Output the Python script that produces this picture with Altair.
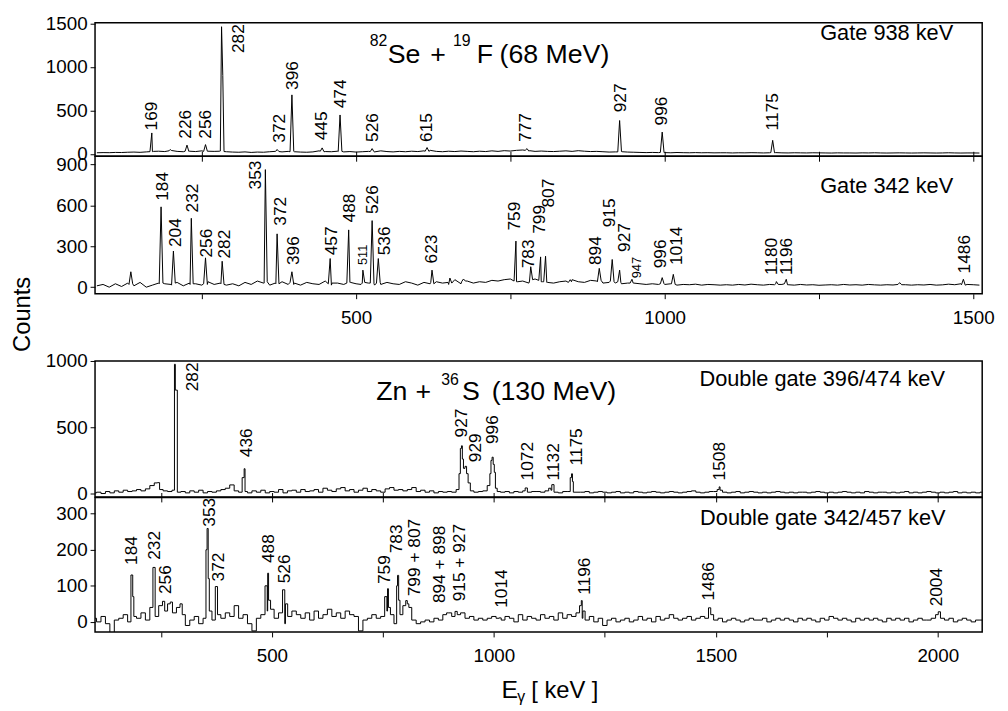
import altair as alt
import pandas as pd

FONT = "Liberation Sans"

# ---------------- Panel 1 : 82Se + 19F, gate 938 keV ----------------
P1_START, P1_STEP = 80, 10
P1_BASE = [12, 14, 13, 16, 15, 18, 20, 17, 22, 25, 30, 26,
           40, 28, 24, 30, 26, 34, 30, 28, 32, 24,
           20, 18, 22, 16, 20, 18, 24, 30, 22, 28,
           24, 20, 18, 22, 34, 26, 24, 30, 22, 26,
           20, 24, 28, 22, 34, 26, 22, 28, 24, 30,
           26, 34, 40, 28, 24, 30, 26, 32, 28, 24,
           30, 26, 34, 28, 36, 32, 40, 44, 30, 28,
           32, 28, 26, 30, 34, 28, 36, 30, 26, 28,
           24, 20, 22, 26, 20, 18, 16, 14, 16, 14,
           14, 12, 15, 13, 12, 14, 12, 13, 11, 12,
           12, 10, 12, 11, 13, 12, 10, 12, 14, 11,
           10, 12, 11, 10, 12, 11, 10, 9, 11, 10,
           10, 9, 11, 10, 12, 10, 9, 10, 11, 10,
           9, 10, 11, 10, 9, 10, 12, 10, 9, 10,
           10, 9]
P1_PEAK_E = [169, 199, 226, 256, 282, 284, 372, 396, 445, 474, 526, 615, 777, 927, 996, 1175]
P1_PEAK_C = [240, 50, 100, 106, 1462, 900, 50, 678, 68, 447, 60, 72, 60, 383, 250, 155]
P1_FOOT_E = [166, 172, 197, 201, 223, 229, 253, 259, 279, 286, 369, 375, 393, 399, 442, 448,
             471, 477, 523, 529, 612, 618, 774, 781, 924, 931, 993, 999, 1172, 1178]
P1_FOOT_C = [25, 28, 35, 38, 30, 28, 28, 30, 30, 26, 28, 26, 24, 28, 30, 24,
             26, 28, 26, 24, 30, 28, 40, 36, 22, 24, 16, 14, 14, 12]
P1_LAB = ["169", "226", "256", "282", "372", "396", "445", "474", "526", "615", "777", "927", "996", "1175"]
P1_LAB_E = [170, 225, 257, 311, 376, 398, 445, 475, 527, 615, 776, 930, 995, 1175]
P1_LAB_C = [269, 174, 174, 1159, 128, 735, 155, 523, 136, 136, 136, 477, 326, 269]

# ---------------- Panel 2 : gate 342 keV ----------------
P2_START, P2_STEP = 80, 10
P2_BASE = [10, 20, 0, 25, 5, 30, 10, 35, 0, 15, 30, 25,
           20, 35, 10, 30, 25, 15, 40, 20, 30, 15,
           25, 10, 35, 20, 45, 30, 15, 25, 40, 20,
           30, 15, 35, 25, 20, 45, 15, 30, 20, 35,
           25, 30, 30, 15, 20, 35, 25, 20, 40, 30,
           15, 35, 25, 40, 30, 20, 55, 25, 45, 30,
           40, 35, 50, 45, 55, 60, 40, 45, 30, 60,
           40, 35, 30, 40, 45, 55, 40, 35, 50, 45,
           30, 35, 30, 25, 30, 30, 25, 20, 25, 20,
           20, 25, 15, 20, 18, 22, 15, 20, 18, 15,
           18, 15, 20, 16, 22, 18, 15, 20, 25, 20,
           18, 15, 20, 16, 18, 14, 16, 18, 15, 20,
           16, 18, 15, 20, 17, 15, 18, 16, 30, 18,
           15, 18, 16, 20, 15, 17, 22, 18, 25, 20,
           18, 15]
P2_PEAK_E = [135, 184, 204, 233, 256, 283, 353, 372, 396, 458, 488, 511, 526, 536, 623, 652, 674,
             759, 783, 799, 807, 847, 894, 915, 927, 947, 996, 1014, 1181, 1197, 1381, 1484]
P2_PEAK_C = [113, 589, 265, 505, 215, 190, 862, 391, 113, 210, 420, 125, 488, 210, 125, 67, 60,
             338, 150, 222, 227, 55, 138, 203, 125, 58, 70, 94, 41, 58, 33, 58]
P2_FOOT_E = [132, 138, 181, 187, 201, 207, 231, 236, 253, 259, 281, 286, 351, 356, 369, 375,
             393, 399, 455, 461, 485, 491, 508, 514, 523, 529, 533, 539, 621, 626, 649, 655,
             671, 677, 756, 762, 781, 786, 796, 802, 804, 809, 844, 849, 891, 897, 912, 918,
             924, 929, 944, 949, 993, 999, 1011, 1017, 1178, 1184, 1194, 1199, 1378, 1384,
             1481, 1487]
P2_FOOT_C = [20, 25, 25, 30, 15, 30, 20, 25, 25, 20, 25, 20, 30, 40, 30, 25,
             35, 20, 25, 30, 30, 35, 20, 35, 30, 25, 30, 35, 35, 25, 35, 30,
             40, 45, 45, 40, 45, 55, 50, 40, 40, 35, 35, 40, 40, 50, 45, 40,
             40, 35, 30, 30, 25, 25, 25, 20, 18, 20, 25, 18, 20, 18,
             18, 15]
P2_LAB = ["184", "204", "232", "256", "282", "353", "372", "396", "457", "488", "526", "536", "623",
          "759", "783", "799", "807", "894", "915", "927", "996", "1014", "1180", "1196", "1486"]
P2_LAB_E = [188, 208, 236, 258.6, 287, 337.7, 379, 399, 460.4, 490, 527, 547, 623,
            757, 781, 798.6, 813, 889, 912, 936, 994.7, 1019.7, 1173.6, 1197.6, 1486]
P2_LAB_C = [633, 294, 548, 217, 210, 717, 451, 162, 234, 475, 536, 234, 174,
            415, 138, 391, 584, 162, 439, 258, 138, 162, 89, 89, 101]
P2_SMALL = ["511", "947"]
P2_SMALL_E = [511, 954.6]
P2_SMALL_C = [162, 65]

# ---------------- Panel 3 : Zn + 36S, double gate 396/474 keV ----------------
P3_START, P3_STEP = 100, 10
P3_BASE = [5, 10, 0, 15, 5, 20, 10, 25, 15, 20,
           30, 20, 35, 60, 80, 30, 20, 15, 25, 10,
           15, 5, 20, 10, 25, 5, 15, 10, 20, 30,
           40, 65, 20, 10, 15, 5, 20, 10, 25, 5,
           15, 10, 30, 5, 20, 25, 10, 30, 15, 20,
           30, 10, 40, 25, 15, 35, 45, 20, 30, 10,
           25, 40, 15, 30, 20, 10, 35, 45, 25, 30,
           20, 30, 45, 15, 25, 10, 20, 5, 15, 10,
           15, 10, 30, 260, 150, 20, 10, 15, 20, 60,
           220, 15, 10, 15, 5, 15, 10, 20, 10, 15,
           15, 10, 20, 25, 10, 5, 15, 15, 10, 10,
           10, 15, 5, 10, 15, 10, 5, 10, 15, 5,
           10, 5, 15, 10, 5, 10, 15, 10, 5, 10,
           15, 10, 5, 10, 15, 20, 10, 5, 10, 15,
           15, 25, 10, 5, 10, 15, 5, 10, 15, 10,
           5, 10, 5, 10, 15, 10, 5, 10, 5, 10,
           10, 5, 10, 15, 10, 5, 10, 5, 10, 15,
           10, 5, 10, 5, 15, 10, 5, 10, 10, 5,
           10, 5, 10, 15, 5, 10, 5, 10, 15, 10,
           5, 10, 5, 10, 15, 5, 10, 5, 10, 5,
           10]
P3_PEAK_E = [244, 281, 284, 436, 439, 923, 926, 928, 933, 937, 944, 992, 995, 997, 1002, 1005,
             1071, 1127, 1131, 1174, 1176, 1178, 1506, 1509]
P3_PEAK_C = [82, 975, 780, 120, 187, 150, 340, 360, 190, 205, 80, 150, 250, 274, 160, 40,
             42, 40, 67, 120, 149, 90, 30, 50]
P3_LAB = ["282", "436", "927", "929", "996", "1072", "1132", "1175", "1508"]
P3_LAB_E = [322, 445, 929, 959, 998, 1076, 1135, 1187, 1510]
P3_LAB_C = [771, 274, 423, 236, 373, 99, 99, 211, 99]

# ---------------- Panel 4 : double gate 342/457 keV ----------------
P4_START, P4_STEP = 100, 10
P4_BASE = [10, 0, 15, -5, -30, 5, 10, 20, 0, 15,
           10, 25, 5, 40, 15, 45, 30, 50, 25, 40,
           20, -10, 5, 15, -5, 10, 30, 5, 20, 10,
           25, 15, 45, 10, 20, -5, -25, 10, 20, 30,
           35, 10, 25, -5, 15, 30, 20, 10, 25, 5,
           30, 10, 20, 35, 15, 25, 10, 30, 20, 15,
           -25, 5, 10, 20, 10, 15, 30, 20, -5, 20,
           45, 40, 5, -5, 0, 5, 0, 10, 5, 20,
           25, 15, 20, 25, 10, 15, 5, 10, 5, 10,
           15, 10, 5, 15, 10, 0, 20, 5, 15, 10,
           5, 20, 10, 15, 5, 25, 10, 20, 15, 25,
           10, 5, 15, 0, 10, -10, 5, 10, 0, 5,
           10, 0, 5, 15, 5, 10, 0, 15, 5, 10,
           20, 10, 5, 10, 15, 5, 10, 15, 10, 20,
           5, 10, 0, 5, 10, 5, 0, 5, 10, 5,
           5, 10, 0, 5, 10, 5, 10, 5, 0, 10,
           5, 10, 5, 0, 10, 5, 15, 10, 5, 10,
           5, 0, 10, 5, 10, 5, 10, 5, 0, 10,
           5, 10, 5, 10, 0, 5, 10, 5, 5, 10,
           20, 10, 5, 10, 0, 5, 10, 5, 0, 5,
           5]
P4_PEAK_E = [185, 188, 234, 257, 272, 296, 353, 355, 358, 375, 489, 491, 494, 528, 531,
             758, 761, 764, 782, 784, 787, 803, 807, 897, 915, 1013, 1196, 1198, 1201, 1487, 2002]
P4_PEAK_C = [130, 70, 151, 57, 55, 50, 200, 259, 120, 98, 100, 135, 60, 89, 50,
             70, 92, 40, 100, 129, 60, 59, 50, 25, 29, 11, 45, 59, 30, 39, 28]
P4_LAB = ["184", "232", "256", "353", "372", "488", "526", "759", "783", "799 + 807",
          "894 + 898", "915 + 927", "1014", "1196", "1486", "2004"]
P4_LAB_E = [185.6, 237.5, 261, 360, 382, 493.4, 530.6, 754.6, 782.8, 823.5,
            877.8, 923.7, 1018, 1205.6, 1484, 1998]
P4_LAB_C = [158, 172, 77, 264, 112, 163, 107, 105, 190, 71, 52, 57, 39, 75, 59, 43]

# axis settings
X_TOP_DOMAIN = [77, 1514.5]
X_BOT_DOMAIN = [101.6, 2100]
X_TOP_TICKS = [250, 500, 750, 1000, 1250, 1500]
X_BOT_TICKS = [250, 500, 750, 1000, 1250, 1500, 1750, 2000]
W = 897
LABEL_SIZE = 17.5
SMALL_SIZE = 13
BIG = 27
SUP = 16


def spectrum(start, step, base, parts):
    e = [start + i * step for i in range(len(base))]
    c = list(base)
    for pe, pc in parts:
        e += list(pe)
        c += list(pc)
    return pd.DataFrame({"e": e, "c": c}).sort_values("e").reset_index(drop=True)


def labels(t, e, c, small=None):
    df = pd.DataFrame({"t": t, "e": e, "c": c, "fs": LABEL_SIZE})
    if small is not None:
        st, se, sc = small
        df = pd.concat([df, pd.DataFrame({"t": st, "e": se, "c": sc, "fs": SMALL_SIZE})],
                       ignore_index=True)
    return df


def note(text, x, y, size, align="left"):
    return alt.Chart(pd.DataFrame({"t": [text]})).mark_text(
        font=FONT, fontSize=size, align=align, baseline="alphabetic", color="black"
    ).encode(x=alt.value(x), y=alt.value(y), text="t:N")


def panel(df, lab_df, xdom, xticks, ydom, yticks, h, interp, show_labels, top_ticks, notes):
    xs = alt.Scale(domain=xdom, nice=False, zero=False)
    ys = alt.Scale(domain=ydom, nice=False, zero=False)
    x_axis = alt.Axis(values=xticks, labels=show_labels, format="d",
                      labelExpr="datum.value % 500 == 0 ? datum.label : ''",
                      ticks=True, tickSize=5, tickColor="black", domain=False, grid=False,
                      title=None, labelFont=FONT, labelFontSize=19, labelColor="black",
                      labelPadding=10, labelFlush=False, orient="bottom")
    y_axis = alt.Axis(values=yticks, format="d", ticks=True, tickSize=5, tickColor="black",
                      domain=False, grid=False, title=None, labelFont=FONT, labelFontSize=19,
                      labelColor="black", labelPadding=3, labelFlush=False,
                      minExtent=50, maxExtent=50)
    line = alt.Chart(df).mark_line(color="black", strokeWidth=1, interpolate=interp,
                                   clip=True).encode(
        x=alt.X("e:Q", scale=xs, axis=x_axis),
        y=alt.Y("c:Q", scale=ys, axis=y_axis),
    )
    if top_ticks:
        lab_x = alt.X("e:Q", scale=xs,
                      axis=alt.Axis(orient="top", values=xticks, labels=False, ticks=True,
                                    tickSize=5, tickColor="black", domain=False, grid=False,
                                    title=None))
    else:
        lab_x = alt.X("e:Q", scale=xs)
    lab = alt.Chart(lab_df).mark_text(angle=270, align="left", baseline="middle", font=FONT,
                                      color="black").encode(
        x=lab_x,
        y=alt.Y("c:Q", scale=ys),
        text="t:N",
        size=alt.Size("fs:Q", scale=None, legend=None),
    )
    ch = alt.layer(line, lab, *notes).properties(width=W, height=h)
    if top_ticks:
        ch = ch.resolve_axis(x="independent")
    return ch


p1 = panel(spectrum(P1_START, P1_STEP, P1_BASE,
                    [(P1_PEAK_E, P1_PEAK_C), (P1_FOOT_E, P1_FOOT_C)]),
           labels(P1_LAB, P1_LAB_E, P1_LAB_C), X_TOP_DOMAIN, X_TOP_TICKS,
           [-28, 1508], [0, 500, 1000, 1500], 135, "linear", False, False,
           [note("Gate 938 keV", 867.7, 17.4, 22, "right"),
            note("82", 277.7, 24, SUP), note("Se", 296, 40.7, BIG), note("+", 339, 40.7, BIG),
            note("19", 362, 24, SUP), note("F", 386, 40.7, BIG),
            note("(68 MeV)", 409, 40.7, BIG)])

p2 = panel(spectrum(P2_START, P2_STEP, P2_BASE,
                    [(P2_PEAK_E, P2_PEAK_C), (P2_FOOT_E, P2_FOOT_C)]),
           labels(P2_LAB, P2_LAB_E, P2_LAB_C, (P2_SMALL, P2_SMALL_E, P2_SMALL_C)),
           X_TOP_DOMAIN, X_TOP_TICKS,
           [-48, 960], [0, 300, 600, 900], 139, "linear", True, True,
           [note("Gate 342 keV", 867.7, 36.7, 22, "right")])

p3 = panel(spectrum(P3_START, P3_STEP, P3_BASE, [(P3_PEAK_E, P3_PEAK_C)]),
           labels(P3_LAB, P3_LAB_E, P3_LAB_C), X_BOT_DOMAIN, X_BOT_TICKS,
           [-26, 1000], [0, 250, 500, 750, 1000], 137.5, "step", False, False,
           [note("Zn", 284.3, 39, BIG), note("+", 324, 39, BIG), note("36", 350, 24, SUP),
            note("S", 371, 39, BIG), note("(130 MeV)", 401, 39, BIG),
            note("Double gate 396/474 keV", 859.3, 25.7, 22, "right")])

p4 = panel(spectrum(P4_START, P4_STEP, P4_BASE, [(P4_PEAK_E, P4_PEAK_C)]),
           labels(P4_LAB, P4_LAB_E, P4_LAB_C), X_BOT_DOMAIN, X_BOT_TICKS,
           [-28, 345], [0, 100, 200, 300], 136, "step", True, True,
           [note("Double gate 342/457 keV", 860, 27.7, 22, "right"),
            note("E", 411, 203, 25), note("γ", 427, 207, 16),
            note("[ keV ]", 441, 203, 24)])

top = alt.vconcat(p1, p2, spacing=0, bounds="flush")
bottom = alt.vconcat(p3, p4, spacing=0, bounds="flush")

chart = alt.vconcat(top, bottom, spacing=23).properties(
    title=alt.TitleParams(text="Counts", orient="left", anchor="middle", font=FONT,
                          fontSize=24, fontWeight="normal", color="black", offset=10, dx=46),
    padding={"left": 2, "top": 1, "right": 5, "bottom": 0},
).configure_view(stroke="black", strokeWidth=1.5)

chart.save("out.html", embed_options={"renderer": "svg", "actions": False})
